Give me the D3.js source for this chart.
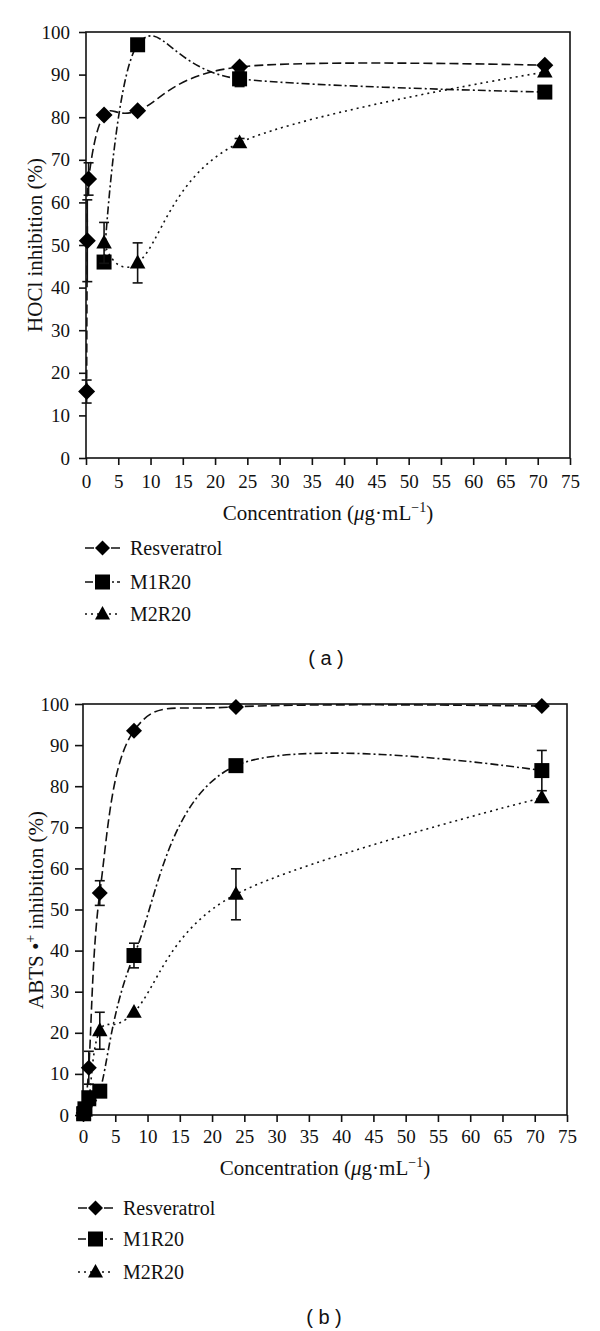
<!DOCTYPE html>
<html>
<head>
<meta charset="utf-8">
<script src="https://cdn.jsdelivr.net/npm/d3@7"></script>
<style>
  html, body { margin: 0; padding: 0; background: #fff; }
  svg { display: block; }
</style>
</head>
<body>
<script>
// ---------------- DATA ----------------
const xTicks = [0, 5, 10, 15, 20, 25, 30, 35, 40, 45, 50, 55, 60, 65, 70, 75];
const yTicks = [0, 10, 20, 30, 40, 50, 60, 70, 80, 90, 100];
const seriesNames = ["Resveratrol", "M1R20", "M2R20"];

// [concentration, inhibition %, error]
const hoclResveratrol = [[0.1, 15.6, 2.7], [0.2, 51, 9.6], [0.4, 65.5, 3.8], [2.8, 80.5, 0], [8, 81.5, 0], [23.8, 91.8, 0], [71.1, 92.2, 0]];
const hoclM1R20 = [[2.8, 46, 0], [8, 97, 0], [23.8, 89, 1.8], [71.1, 85.9, 0]];
const hoclM2R20 = [[2.8, 50.5, 4.8], [8, 45.8, 4.7], [23.8, 74, 1], [71.1, 90.6, 0]];

const abtsResveratrol = [[0.1, 0.5, 0], [0.3, 2, 0], [0.9, 11.5, 4], [2.6, 54, 3], [7.9, 93.5, 0], [23.7, 99.3, 0], [71.1, 99.5, 0]];
const abtsM1R20 = [[0.1, 0.3, 0], [0.3, 1.5, 0], [0.9, 4.2, 0], [2.6, 5.8, 0], [7.9, 38.8, 3], [23.7, 85, 0], [71.1, 83.8, 4.9]];
const abtsM2R20 = [[0.1, 0.3, 0], [0.3, 1, 0], [0.9, 3.5, 0], [2.6, 20.5, 4.5], [7.9, 25, 0], [23.7, 53.7, 6.2], [71.1, 77.2, 0]];

// ---------------- STYLE ----------------
const SERIF = "'Liberation Serif', 'Times New Roman', serif";
const SANS = "'Liberation Sans', Arial, sans-serif";
const INK = "#111";
const dashes = ["9,4", "8,3,2,3", "2,4"];
const shapes = ["diamond", "square", "triangle"];

function markerPath(shape, s) {
  const h = s / 2;
  if (shape === "diamond") return `M0,${-h}L${h},0L0,${h}L${-h},0Z`;
  if (shape === "square") return `M${-h},${-h}H${h}V${h}H${-h}Z`;
  const th = s * 0.9;
  return `M0,${-th * 0.6}L${h},${th * 0.4}L${-h},${th * 0.4}Z`;
}

const svg = d3.select("body").append("svg")
  .attr("width", 600).attr("height", 1331)
  .style("background", "#fff");

function drawPanel(cfg) {
  const g = svg.append("g");
  const x = d3.scaleLinear().domain([0, 75]).range([cfg.left, cfg.right]);
  const y = d3.scaleLinear().domain([0, 100]).range([cfg.bottom, cfg.top]);

  // Axes
  const ya = g.append("g").attr("transform", `translate(${cfg.left},0)`)
    .call(d3.axisLeft(y).tickValues(yTicks).tickSize(cfg.yTick).tickPadding(cfg.yPad).tickSizeOuter(0));
  const xa = g.append("g").attr("transform", `translate(0,${cfg.bottom})`)
    .call(d3.axisBottom(x).tickValues(xTicks).tickSize(7).tickPadding(cfg.xPad).tickSizeOuter(0));
  [ya, xa].forEach(a => {
    a.select(".domain").remove();
    a.selectAll("line").attr("stroke", INK).attr("stroke-width", 1.6);
    a.selectAll("text").attr("fill", INK).style("font-family", SERIF).style("font-size", "19px");
  });

  // Frame
  g.append("rect")
    .attr("x", cfg.left).attr("y", cfg.top)
    .attr("width", cfg.right - cfg.left).attr("height", cfg.bottom - cfg.top)
    .attr("fill", "none").attr("stroke", INK).attr("stroke-width", 1.6);

  const line = d3.line().x(d => x(d[0])).y(d => y(d[1])).curve(d3.curveCardinal.tension(0));

  cfg.series.forEach((data, i) => {
    g.append("path").datum(data)
      .attr("d", line)
      .attr("fill", "none").attr("stroke", INK).attr("stroke-width", 1.6)
      .attr("stroke-dasharray", dashes[i]);
  });
  cfg.series.forEach((data, i) => {
    const eb = data.filter(d => d[2] > 0);
    const eg = g.append("g").attr("stroke", INK).attr("stroke-width", 1.6);
    eb.forEach(d => {
      const cx = x(d[0]);
      eg.append("line").attr("x1", cx).attr("x2", cx).attr("y1", y(d[1] - d[2])).attr("y2", y(d[1] + d[2]));
      eg.append("line").attr("x1", cx - 5).attr("x2", cx + 5).attr("y1", y(d[1] - d[2])).attr("y2", y(d[1] - d[2]));
      eg.append("line").attr("x1", cx - 5).attr("x2", cx + 5).attr("y1", y(d[1] + d[2])).attr("y2", y(d[1] + d[2]));
    });
    g.selectAll(null).data(data).enter().append("path")
      .attr("transform", d => `translate(${x(d[0])},${y(d[1])})`)
      .attr("d", markerPath(shapes[i], cfg.msize[i]))
      .attr("fill", "#000");
  });

  // X axis title
  const xt = g.append("text")
    .attr("x", (cfg.left + cfg.right) / 2).attr("y", cfg.xTitleY)
    .attr("text-anchor", "middle").attr("fill", INK)
    .style("font-family", SERIF).style("font-size", "21px");
  xt.append("tspan").text("Concentration (");
  xt.append("tspan").style("font-style", "italic").text("μ");
  xt.append("tspan").text("g·mL");
  xt.append("tspan").attr("dy", -8).style("font-size", "14px").text("−1");
  xt.append("tspan").attr("dy", 8).text(")");

  // Y axis title
  const yt = g.append("text")
    .attr("transform", `translate(${cfg.yTitleX},${cfg.yTitleY}) rotate(-90)`)
    .attr("text-anchor", "middle").attr("fill", INK)
    .style("font-family", SERIF).style("font-size", "21px");
  cfg.yTitle(yt);

  // Legend
  cfg.legendY.forEach((ly, i) => {
    g.append("line")
      .attr("x1", cfg.legendX[0]).attr("x2", cfg.legendX[1])
      .attr("y1", ly).attr("y2", ly)
      .attr("stroke", INK).attr("stroke-width", 1.6)
      .attr("stroke-dasharray", dashes[i]);
    g.append("path")
      .attr("transform", `translate(${(cfg.legendX[0] + cfg.legendX[1]) / 2},${ly})`)
      .attr("d", markerPath(shapes[i], i === 0 ? 15 : 15))
      .attr("fill", "#000");
    g.append("text")
      .attr("x", cfg.legendX[1] + 10).attr("y", ly + 7)
      .attr("fill", INK)
      .style("font-family", SERIF).style("font-size", "20px")
      .text(seriesNames[i]);
  });

  // Panel label
  g.append("text")
    .attr("x", cfg.panelX).attr("y", cfg.panelY)
    .attr("text-anchor", "middle").attr("fill", INK)
    .style("font-family", SANS).style("font-size", "20px")
    .attr("xml:space", "preserve")
    .text(cfg.panelLabel);
}

drawPanel({
  left: 86, right: 570, top: 32, bottom: 458,
  yTick: 7, yPad: 9, xPad: 10,
  series: [hoclResveratrol, hoclM1R20, hoclM2R20],
  msize: [17, 15, 15.5],
  xTitleY: 520,
  yTitleX: 42, yTitleY: 245,
  yTitle: t => t.text("HOCl inhibition (%)"),
  legendY: [548, 582, 614],
  legendX: [85, 120],
  panelX: 326, panelY: 665, panelLabel: "( a )"
});

drawPanel({
  left: 83, right: 567, top: 704, bottom: 1115,
  yTick: 8, yPad: 6, xPad: 8,
  series: [abtsResveratrol, abtsM1R20, abtsM2R20],
  msize: [16, 15, 15.5],
  xTitleY: 1175,
  yTitleX: 43, yTitleY: 910,
  yTitle: t => {
    t.append("tspan").text("ABTS •");
    t.append("tspan").attr("dy", -8).style("font-size", "14px").text("+");
    t.append("tspan").attr("dy", 8).text(" inhibition (%)");
  },
  legendY: [1208, 1239, 1272],
  legendX: [78, 113],
  panelX: 324, panelY: 1324, panelLabel: "( b )"
});
</script>
</body>
</html>
